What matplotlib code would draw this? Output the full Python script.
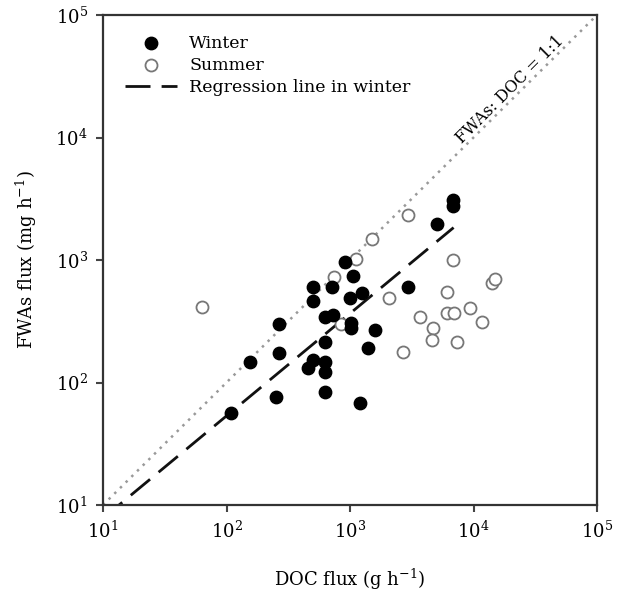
import numpy as np
import matplotlib
matplotlib.use("Agg")
import matplotlib.pyplot as plt

plt.rcParams['font.family'] = ['DejaVu Serif']
plt.rcParams['mathtext.fontset'] = 'dejavuserif'

winter_doc = [109, 252, 155, 266, 266, 502, 502, 714, 912, 1057, 1000, 1250,
              628, 728, 1019, 1019, 1593, 1400, 628, 502, 457, 628, 628, 628,
              1205, 2950, 5060, 6820, 6820]
winter_fwa = [56, 76, 147, 301, 174, 603, 462, 603, 963, 740, 490, 538,
              343, 355, 306, 280, 268, 190, 214, 153, 131, 147, 122, 84,
              68, 603, 1967, 3090, 2760]

summer_doc = [63, 1507, 1120, 741, 846, 2950, 6820, 14100, 15000, 2071, 6100,
              3690, 6100, 6980, 9330, 11700, 4700, 4610, 7350, 2700]
summer_fwa = [413, 1483, 1019, 726, 301, 2329, 1000, 649, 700, 490, 548,
              343, 369, 369, 406, 312, 279, 222, 214, 177]

reg_a = 1.136
reg_b = 0.836
reg_xrange = [10, 6900]

fig = plt.figure(figsize=(6.27, 5.98), dpi=100)
ax = fig.add_axes([103/627, 1-505/598, 494/627, 490/598])
ax.set_xscale('log')
ax.set_yscale('log')
ax.set_xlim(10, 1e5)
ax.set_ylim(10, 1e5)

# 1:1 line
ax.plot([10, 1e5], [10, 1e5], linestyle=(0, (1, 2.2)), color='#999999', lw=1.8, zorder=1)

# regression
xr = np.logspace(np.log10(reg_xrange[0]), np.log10(reg_xrange[1]), 50)
ax.plot(xr, reg_a * xr ** reg_b, linestyle=(0, (9, 4)), color='#111111', lw=2.0,
        zorder=2, label='Regression line in winter')

ax.scatter(winter_doc, winter_fwa, s=80, color='black', zorder=4, label='Winter')
ax.scatter(summer_doc, summer_fwa, s=75, facecolors='white', edgecolors='#777777',
           linewidths=1.3, zorder=3, label='Summer')

ax.text(2.1e4, 2.3e4, 'FWAs: DOC = 1:1', rotation=45, rotation_mode='anchor',
        ha='center', va='baseline', fontsize=11.5)

h, l = ax.get_legend_handles_labels()
order = [1, 2, 0]
ax.legend([h[i] for i in order], [l[i] for i in order], loc='upper left',
          frameon=False, fontsize=12.5, handlelength=3.0, borderaxespad=0.3,
          labelspacing=0.3, handletextpad=0.7, bbox_to_anchor=(0.02, 0.985))

for sp in ax.spines.values():
    sp.set_linewidth(1.6)
    sp.set_color('#333333')
ax.tick_params(which='major', direction='out', length=5, width=1.5, color='#444444',
               labelsize=13, pad=6)
ax.tick_params(which='minor', length=0)
ax.set_xticks([1e1, 1e2, 1e3, 1e4, 1e5])
ax.set_yticks([1e1, 1e2, 1e3, 1e4, 1e5])

ax.set_xlabel('DOC flux (g h$^{-1}$)', fontsize=13, labelpad=18)
ax.set_ylabel('FWAs flux (mg h$^{-1}$)', fontsize=13, labelpad=12)

fig.savefig('out.png', dpi=100)
